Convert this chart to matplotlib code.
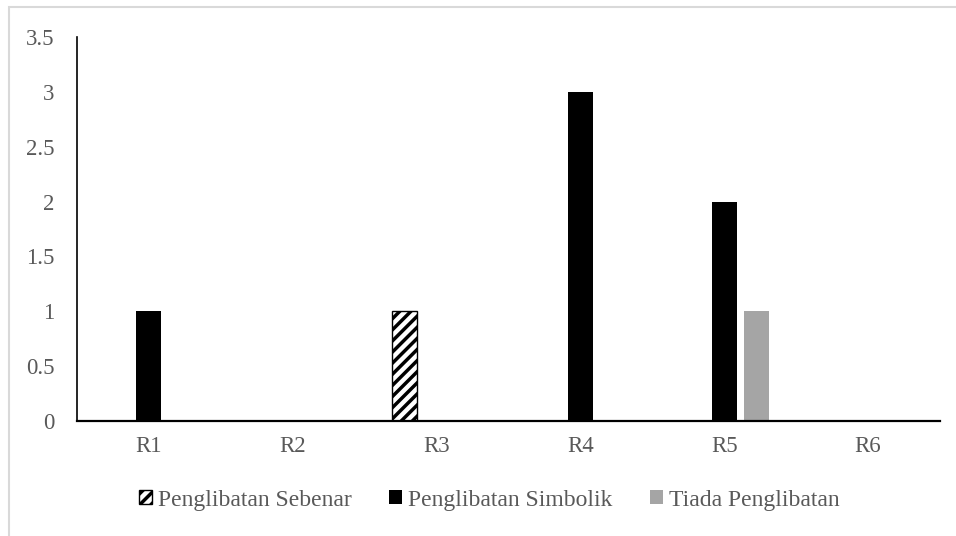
import numpy as np
import matplotlib.pyplot as plt
from matplotlib.patches import Rectangle

categories = ['R1', 'R2', 'R3', 'R4', 'R5', 'R6']
series_names = ['Penglibatan Sebenar', 'Penglibatan Simbolik', 'Tiada Penglibatan']
sebenar = [0, 0, 1, 0, 0, 0]
simbolik = [1, 0, 0, 3, 2, 0]
tiada = [0, 0, 0, 0, 1, 0]

plt.rcParams['font.family'] = ['Liberation Serif', 'DejaVu Serif']
text_color = '#595959'

fig = plt.figure(figsize=(9.56, 5.36), dpi=100)
ax = fig.add_axes([0.0805, 0.2146, 0.9027, 0.7164])

x = np.arange(len(categories))
width = 0.174
offset = 0.2225

# keep zero-height bars out so no outline shows on the axis
def nz(vals):
    return [v if v != 0 else np.nan for v in vals]

plt.rcParams['hatch.linewidth'] = 2.5
b1 = ax.bar(x - offset, nz(sebenar), width, facecolor='white', edgecolor='black',
            hatch='///', linewidth=1.0, label=series_names[0])
b2 = ax.bar(x, nz(simbolik), width, color='black', label=series_names[1])
b3 = ax.bar(x + offset, nz(tiada), width, color='#a5a5a5', label=series_names[2])

ax.set_xlim(-0.5, len(categories) - 0.5)
ax.set_ylim(0, 3.5)
ax.set_yticks(np.arange(0, 3.51, 0.5))
ax.set_yticklabels(['0', '0.5', '1', '1.5', '2', '2.5', '3', '3.5'])
ax.set_xticks(x)
ax.set_xticklabels(categories)

for s in ['top', 'right']:
    ax.spines[s].set_visible(False)
ax.spines['left'].set_linewidth(1.2)
ax.spines['bottom'].set_linewidth(1.6)
ax.tick_params(axis='both', length=0, labelsize=16.5, colors=text_color)
ax.tick_params(axis='x', pad=11)
ax.tick_params(axis='y', pad=16)

leg = fig.legend(handles=[b1, b2, b3], labels=series_names, loc='center',
                 bbox_to_anchor=(0.512, 0.067), ncol=3, frameon=False,
                 fontsize=17, handlelength=0.55, handleheight=0.55,
                 handletextpad=0.25, columnspacing=1.6, labelcolor=text_color)

# light chart-area border
fig.patches.append(Rectangle((9 / 956, -0.1), 1.2, 1.1 - 7 / 536,
                             transform=fig.transFigure, fill=False,
                             edgecolor='#d9d9d9', linewidth=1.5))

fig.savefig('out.png', dpi=100)
